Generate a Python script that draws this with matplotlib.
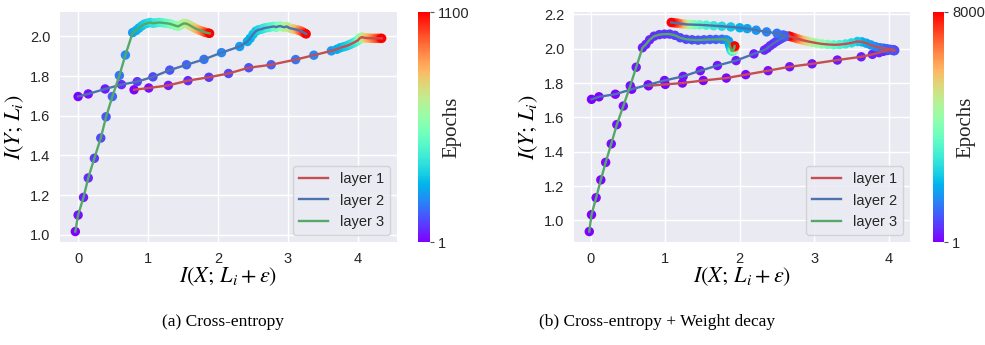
import matplotlib
matplotlib.use("Agg")
import matplotlib.pyplot as plt
import matplotlib.colors as mcolors
import matplotlib.cm as cm

# ---------------- data: (a) Cross-entropy ----------------
epochs_a = [1, 20, 40, 60, 80, 100, 120, 140, 170, 200,
            230, 260, 280, 300, 320, 340, 360, 380, 400, 425,
            450, 475, 500, 530, 560, 590, 620, 650, 680, 710,
            740, 770, 800, 840, 880, 920, 960, 1000, 1050, 1100]

a_l1_x = [0.80, 1.01, 1.29, 1.57, 1.87, 2.15, 2.44, 2.76, 3.11, 3.37,
          3.62, 3.70, 3.75, 3.80, 3.84, 3.88, 3.91, 3.94, 3.96, 3.98,
          4.00, 4.01, 4.02, 4.03, 4.04, 4.05, 4.06, 4.07, 4.08, 4.09,
          4.10, 4.12, 4.14, 4.17, 4.20, 4.23, 4.26, 4.29, 4.32, 4.34]
a_l1_y = [1.731, 1.740, 1.753, 1.777, 1.794, 1.813, 1.842, 1.857, 1.883, 1.905,
          1.927, 1.935, 1.943, 1.948, 1.952, 1.958, 1.963, 1.968, 1.972, 1.976,
          1.980, 1.984, 1.988, 1.991, 1.993, 1.995, 1.996, 1.995, 1.994, 1.993,
          1.992, 1.992, 1.991, 1.991, 1.990, 1.990, 1.990, 1.990, 1.990, 1.990]

a_l2_x = [0.00, 0.145, 0.386, 0.62, 0.845, 1.07, 1.31, 1.55, 1.80, 2.05,
          2.31, 2.42, 2.46, 2.50, 2.54, 2.58, 2.62, 2.65, 2.68, 2.72,
          2.76, 2.80, 2.83, 2.86, 2.89, 2.92, 2.95, 2.98, 3.01, 3.04,
          3.07, 3.09, 3.12, 3.14, 3.16, 3.18, 3.20, 3.22, 3.24, 3.26]
a_l2_y = [1.697, 1.710, 1.735, 1.757, 1.772, 1.796, 1.830, 1.857, 1.884, 1.918,
          1.949, 1.974, 1.990, 2.010, 2.026, 2.033, 2.036, 2.040, 2.043, 2.045,
          2.048, 2.050, 2.046, 2.050, 2.052, 2.048, 2.046, 2.050, 2.044, 2.040,
          2.038, 2.036, 2.034, 2.032, 2.030, 2.027, 2.024, 2.020, 2.016, 2.012]

a_l3_x = [-0.04, 0.00, 0.077, 0.145, 0.232, 0.324, 0.40, 0.49, 0.59, 0.676,
          0.78, 0.83, 0.87, 0.91, 0.95, 0.99, 1.03, 1.07, 1.11, 1.16,
          1.21, 1.26, 1.30, 1.34, 1.39, 1.43, 1.47, 1.51, 1.55, 1.59,
          1.63, 1.67, 1.70, 1.73, 1.76, 1.79, 1.81, 1.83, 1.86, 1.88]
a_l3_y = [1.017, 1.100, 1.189, 1.287, 1.386, 1.488, 1.595, 1.697, 1.803, 1.906,
          2.019, 2.030, 2.042, 2.053, 2.062, 2.066, 2.070, 2.066, 2.068, 2.070,
          2.068, 2.066, 2.064, 2.060, 2.054, 2.050, 2.058, 2.065, 2.064, 2.057,
          2.049, 2.041, 2.036, 2.032, 2.028, 2.024, 2.021, 2.019, 2.017, 2.015]

# ---------------- data: (b) Cross-entropy + Weight decay ----------------
epochs_b = [1, 20, 40, 60, 80, 100, 130, 160, 200, 250,
            300, 350, 400, 450, 500, 550, 600, 650, 700, 750,
            800, 850, 900, 950, 1000, 1200, 1400, 1600, 1800, 2000,
            2300, 2600, 2900, 3200, 3500, 3800, 4100, 4400, 4700, 5000,
            5400, 5800, 6200, 6600, 7000, 7400, 7700, 8000]

b_l1_x = [0.775, 1.00, 1.23, 1.51, 1.82, 2.08, 2.38, 2.67, 2.97, 3.31,
          3.63, 3.78, 3.87, 3.93, 3.98, 4.02, 4.05, 4.07, 4.08, 4.07,
          4.06, 4.04, 4.01, 3.97, 3.93, 3.88, 3.82, 3.76, 3.70, 3.64,
          3.58, 3.50, 3.42, 3.34, 3.26, 3.18, 3.10, 3.03, 2.97, 2.92,
          2.88, 2.84, 2.80, 2.77, 2.74, 2.71, 2.68, 2.66]
b_l1_y = [1.784, 1.792, 1.800, 1.815, 1.829, 1.849, 1.872, 1.895, 1.912, 1.934,
          1.953, 1.967, 1.977, 1.985, 1.990, 1.994, 1.995, 1.993, 1.990, 1.988,
          1.990, 1.993, 1.997, 2.000, 2.003, 2.006, 2.012, 2.022, 2.032, 2.040,
          2.042, 2.034, 2.028, 2.024, 2.023, 2.025, 2.028, 2.033, 2.038, 2.042,
          2.046, 2.050, 2.055, 2.059, 2.063, 2.067, 2.071, 2.074]

b_l2_x = [0.01, 0.11, 0.33, 0.55, 0.77, 0.99, 1.24, 1.47, 1.70, 1.95,
          2.19, 2.33, 2.37, 2.41, 2.45, 2.49, 2.52, 2.55, 2.57, 2.59,
          2.60, 2.61, 2.61, 2.60, 2.58, 2.50, 2.36, 2.22, 2.10, 2.00,
          1.88, 1.76, 1.65, 1.55, 1.46, 1.39, 1.34, 1.31, 1.28, 1.26,
          1.24, 1.22, 1.20, 1.18, 1.16, 1.13, 1.10, 1.08]
b_l2_y = [1.705, 1.720, 1.735, 1.764, 1.790, 1.815, 1.839, 1.872, 1.902, 1.931,
          1.970, 1.992, 2.003, 2.018, 2.030, 2.042, 2.050, 2.058, 2.063, 2.068,
          2.070, 2.072, 2.074, 2.077, 2.080, 2.090, 2.098, 2.108, 2.117, 2.122,
          2.127, 2.131, 2.134, 2.137, 2.139, 2.140, 2.141, 2.141, 2.142, 2.143,
          2.144, 2.145, 2.146, 2.148, 2.149, 2.150, 2.152, 2.153]

b_l3_x = [-0.02, 0.01, 0.072, 0.135, 0.20, 0.275, 0.35, 0.437, 0.53, 0.61,
          0.694, 0.74, 0.79, 0.85, 0.92, 0.99, 1.06, 1.13, 1.20, 1.28,
          1.36, 1.44, 1.52, 1.60, 1.68, 1.76, 1.82, 1.85, 1.86, 1.87,
          1.88, 1.89, 1.90, 1.91, 1.91, 1.92, 1.92, 1.92, 1.92, 1.92,
          1.93, 1.93, 1.93, 1.93, 1.93, 1.93, 1.93, 1.93]
b_l3_y = [0.935, 1.033, 1.132, 1.236, 1.338, 1.446, 1.558, 1.666, 1.784, 1.892,
          2.006, 2.025, 2.052, 2.073, 2.082, 2.085, 2.085, 2.078, 2.064, 2.055,
          2.052, 2.050, 2.052, 2.054, 2.054, 2.055, 2.052, 2.044, 2.028, 2.012,
          1.997, 1.988, 1.986, 1.988, 1.992, 1.995, 1.998, 2.000, 2.002, 2.004,
          2.006, 2.008, 2.010, 2.011, 2.012, 2.013, 2.014, 2.016]

layer_labels = ["layer 1", "layer 2", "layer 3"]
layer_colors = ["#C44E52", "#4C72B0", "#55A868"]
cbar_ticks_a = [1, 1100]
cbar_ticks_b = [1, 8000]
captions = ["(a) Cross-entropy", "(b) Cross-entropy + Weight decay"]

# ---------------- style ----------------
plt.rcParams["font.family"] = ["Liberation Sans", "DejaVu Sans"]
plt.rcParams["mathtext.fontset"] = "stix"
SERIF = ["Liberation Serif", "DejaVu Serif"]

W, H = 985, 345
fig = plt.figure(figsize=(W / 100, H / 100), dpi=100)


def frac(x0, y_top, w, h):
    return [x0 / W, (H - y_top - h) / H, w / W, h / H]


def draw(ax, cax, epochs, layers, ticks, cap_x, caption):
    norm = mcolors.Normalize(vmin=ticks[0], vmax=ticks[1])
    ax.set_facecolor("#EAEAF2")
    for s in ax.spines.values():
        s.set_visible(False)
    ax.grid(True, color="white", lw=1.0, zorder=0)
    ax.set_axisbelow(True)
    for (xs, ys), lab, col in zip(layers, layer_labels, layer_colors):
        ax.scatter(xs, ys, c=epochs, cmap="rainbow", norm=norm, s=46,
                   linewidths=0, zorder=2)
        ax.plot(xs, ys, color=col, lw=1.7, label=lab, zorder=3)
    ax.tick_params(axis="both", length=0, labelsize=10.5, colors="#262626", pad=7)
    ax.set_xticks([0, 1, 2, 3, 4])
    ax.set_xlabel(r"$I(X;\,L_i+\varepsilon)$", fontsize=16, labelpad=0)
    ax.set_ylabel(r"$I(Y;\,L_i)$", fontsize=16, labelpad=3)
    leg = ax.legend(loc="lower right", fontsize=10.5, frameon=True,
                    facecolor="#EAEAF2", edgecolor="#CCCCCC", framealpha=0.8)
    for t in leg.get_texts():
        t.set_color("#262626")
    sm = cm.ScalarMappable(norm=norm, cmap="rainbow")
    cb = fig.colorbar(sm, cax=cax, ticks=ticks)
    cb.outline.set_visible(False)
    cb.ax.tick_params(length=3, width=0.8, color="#555555", labelsize=10.5,
                      labelcolor="#262626", pad=3)
    cb.ax.set_yticklabels([str(t) for t in ticks])
    pos = cax.get_position()
    fig.text(pos.x1 + 22 / W, pos.y0 + pos.height / 2, "Epochs", rotation=90,
             ha="center", va="center", fontsize=15, family=SERIF, color="#262626")
    fig.text(cap_x / W, (H - 322) / H, caption, ha="center", va="center",
             fontsize=12.5, family=SERIF, color="black")


ax1 = fig.add_axes(frac(60, 12, 337, 230))
cax1 = fig.add_axes(frac(418, 12, 12, 230))
ax2 = fig.add_axes(frac(574, 12, 336, 230))
cax2 = fig.add_axes(frac(933, 12, 11, 230))

draw(ax1, cax1, epochs_a,
     [(a_l1_x, a_l1_y), (a_l2_x, a_l2_y), (a_l3_x, a_l3_y)],
     cbar_ticks_a, 223, captions[0])
draw(ax2, cax2, epochs_b,
     [(b_l1_x, b_l1_y), (b_l2_x, b_l2_y), (b_l3_x, b_l3_y)],
     cbar_ticks_b, 657, captions[1])

fig.savefig("out.png", dpi=100)
